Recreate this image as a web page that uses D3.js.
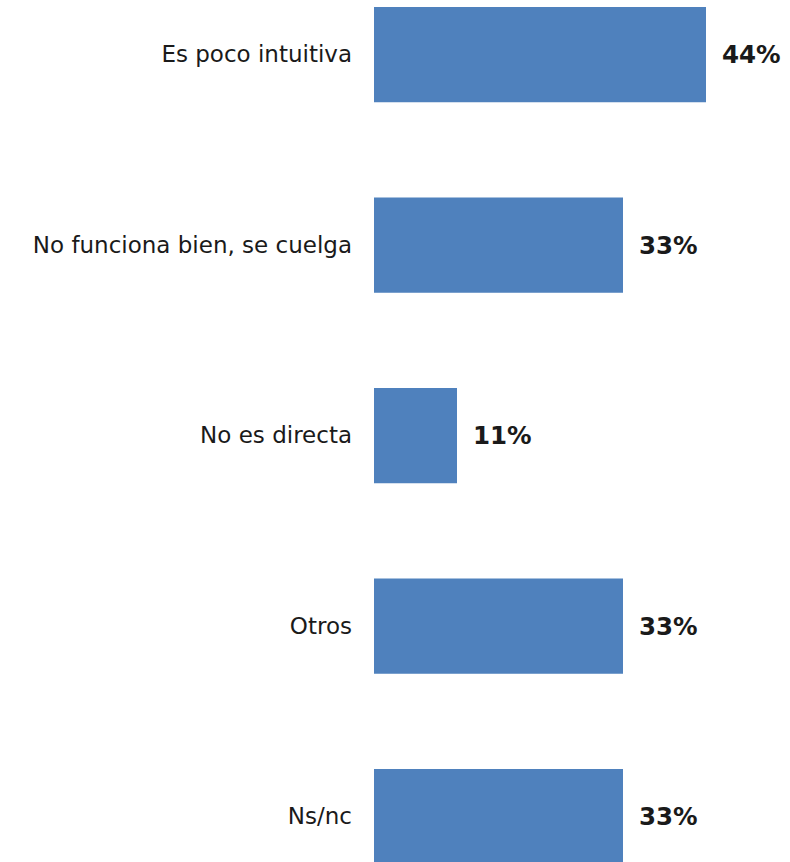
<!DOCTYPE html>
<html>
<head>
<meta charset="utf-8">
<script src="https://cdn.jsdelivr.net/npm/d3@7"></script>
<style>
  html, body { margin: 0; padding: 0; background: #ffffff; }
  svg { display: block; }
</style>
</head>
<body>
<svg id="chart" width="790" height="862"></svg>
<script>
// Reasons given, share of respondents (%)
const categories = [
  "Es poco intuitiva",
  "No funciona bien, se cuelga",
  "No es directa",
  "Otros",
  "Ns/nc"
];
const values = [44, 33, 11, 33, 33];
const valueLabels = ["44%", "33%", "11%", "33%", "33%"];

const width = 790, height = 862;
const svg = d3.select("#chart");

const x = d3.scaleLinear().domain([0, 44]).range([374, 706]);
const y = d3.scaleBand()
  .domain(categories)
  .range([7, 864.25])
  .paddingInner(0.5)
  .paddingOuter(0);

const rows = categories.map((c, i) => ({ cat: c, value: values[i], label: valueLabels[i] }));

svg.selectAll("rect.bar")
  .data(rows)
  .join("rect")
  .attr("class", "bar")
  .attr("x", x(0))
  .attr("y", d => y(d.cat))
  .attr("width", d => x(d.value) - x(0))
  .attr("height", y.bandwidth())
  .attr("fill", "#4F81BD");

// Category labels, right-aligned to the left of the bars
svg.selectAll("text.cat")
  .data(rows)
  .join("text")
  .attr("class", "cat")
  .attr("x", x(0) - 22)
  .attr("y", d => y(d.cat) + y.bandwidth() / 2)
  .attr("dy", "0.33em")
  .attr("text-anchor", "end")
  .attr("font-family", "'DejaVu Sans', sans-serif")
  .attr("font-size", 23)
  .attr("fill", "#1a1a1a")
  .text(d => d.cat);

// Value labels at the end of each bar
svg.selectAll("text.val")
  .data(rows)
  .join("text")
  .attr("class", "val")
  .attr("x", d => x(d.value) + 16)
  .attr("y", d => y(d.cat) + y.bandwidth() / 2)
  .attr("dy", "0.36em")
  .attr("text-anchor", "start")
  .attr("font-family", "'DejaVu Sans', sans-serif")
  .attr("font-weight", "bold")
  .attr("font-size", 24.5)
  .attr("fill", "#1a1a1a")
  .text(d => d.label);
</script>
</body>
</html>
